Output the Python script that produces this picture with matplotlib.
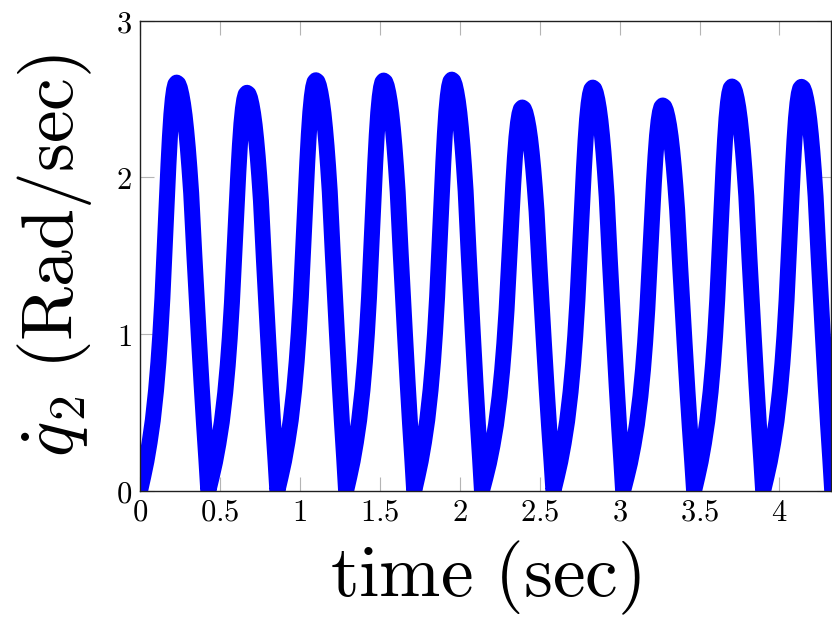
import numpy as np
import matplotlib
matplotlib.use('Agg')
import matplotlib.pyplot as plt

plt.rcParams['mathtext.fontset'] = 'cm'

# times where q2dot touches zero, peak times and peak heights
t_zero = [0.000, 0.427, 0.859, 1.289, 1.715, 2.139, 2.586, 3.022, 3.466, 3.898, 4.330]
t_peak = [0.229, 0.669, 1.100, 1.524, 1.950, 2.391, 2.832, 3.270, 3.703, 4.138]
h_peak = [2.605, 2.540, 2.620, 2.618, 2.624, 2.446, 2.573, 2.459, 2.580, 2.578]

# shape of one arch, traced on the first ones (fraction of rise/fall time, fraction of height)
rise_t = [0, 0.087, 0.175, 0.262, 0.349, 0.437, 0.502, 0.555, 0.611, 0.668, 0.725, 0.777, 0.817, 0.856, 0.895, 0.930, 0.965]
rise_y = [0, 0.035, 0.073, 0.119, 0.173, 0.246, 0.315, 0.384, 0.472, 0.585, 0.700, 0.800, 0.868, 0.922, 0.960, 0.983, 0.996]
fall_t = [0, 0.051, 0.101, 0.152, 0.202, 0.253, 0.303, 0.354, 0.404, 0.460, 0.561, 0.697, 0.788, 0.864, 0.939]
fall_y = [1, 0.997, 0.987, 0.970, 0.948, 0.919, 0.883, 0.840, 0.791, 0.729, 0.576, 0.384, 0.261, 0.165, 0.077]

xticks = [0, 0.5, 1, 1.5, 2, 2.5, 3, 3.5, 4]
xticklabels = ['0', '0.5', '1', '1.5', '2', '2.5', '3', '3.5', '4']
yticks = [0, 1, 2, 3]
yticklabels = ['0', '1', '2', '3']

t, q = [], []
for k in range(len(t_peak)):
    t0, tp, t1, h = t_zero[k], t_peak[k], t_zero[k + 1], h_peak[k]
    t += [t0 + (tp - t0) * a for a in rise_t] + [tp + (t1 - tp) * a for a in fall_t]
    q += [h * b for b in rise_y] + [h * b for b in fall_y]
t.append(t_zero[-1])
q.append(0.0)

fig = plt.figure(figsize=(8.32, 6.36), dpi=100)
ax = fig.add_axes([0.1683, 0.228, 0.8300, 0.7395])

ax.plot(t, q, color='#0000ff', lw=11.5, solid_joinstyle='round', solid_capstyle='butt')

ax.set_xlim(0, 4.32)
ax.set_ylim(0, 3)
ax.set_xticks(xticks)
ax.set_xticklabels(['$' + s + '$' for s in xticklabels])
ax.set_yticks(yticks)
ax.set_yticklabels(['$' + s + '$' for s in yticklabels])
ax.tick_params(direction='in', length=10, width=0.8, color='#b4b4b4',
               top=True, right=True, labelsize=22)
ax.tick_params(axis='x', pad=5)
ax.tick_params(axis='y', pad=6)
for sp in ax.spines.values():
    sp.set_linewidth(1.0)
    sp.set_color('#202020')

ax.set_xlabel(r'$\mathrm{time\ (sec)}$', fontsize=53)
ax.set_ylabel(r'$\dot{q}_2\ (\mathrm{Rad}/\mathrm{sec})$', fontsize=53)
ax.xaxis.set_label_coords(0.5, -0.101)
ax.yaxis.set_label_coords(-0.066, 0.5)

plt.savefig('out.png', dpi=100)
